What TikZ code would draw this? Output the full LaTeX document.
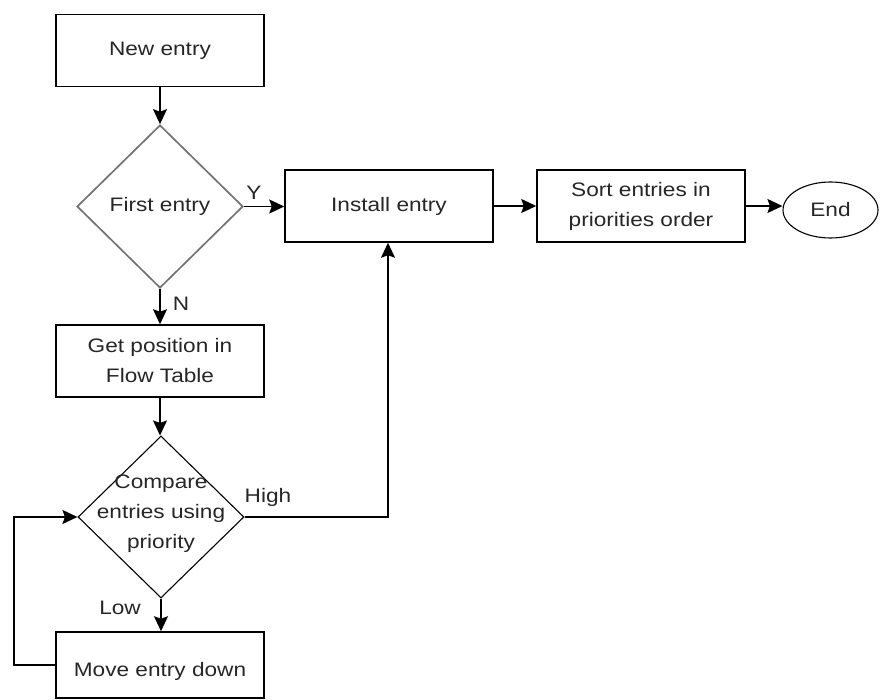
\documentclass[tikz,border=0pt]{standalone}
\usepackage{fontspec}
\setmainfont{Liberation Sans}[FakeStretch=1.16]
\usetikzlibrary{shapes.geometric,arrows.meta}
\begin{document}
\begin{tikzpicture}[x=1pt,y=-1pt,
  every node/.style={font=\fontsize{19.5}{30}\selectfont, text=black!85},
  box/.style={draw, line width=1.5pt, minimum width=208pt, minimum height=72pt, inner sep=0pt, align=center},
  dia/.style={draw, shape=diamond, minimum width=166pt, minimum height=163pt, inner sep=0pt},
  arr/.style={line width=1.5pt, -{Stealth[length=15pt,width=14pt,inset=2.5pt]}},
  lbl/.style={inner sep=0pt}]
\useasboundingbox (0,0) rectangle (880,700);
\node[box] (ne) at (160,50.5) {New entry};
\node[dia, draw=black!55, line width=1.7pt] (fe) at (160,206.5) {};
\node at (fe.center) {First entry};
\node[box] (gp) at (160,361) {Get position in\\Flow Table};
\node[dia, line width=1.1pt, minimum height=162pt] (cmp) at (161,517) {};
\node[align=center] at (161,514) {Compare\\entries using\\priority};
\node[box, minimum height=66pt] (mv) at (160,665) {};
\node at (160,671) {Move entry down};
\node[box] (inst) at (389,206) {Install entry};
\node[box] (sort) at (641,206) {Sort entries in\\priorities order};
\node[draw, ellipse, line width=1.1pt, minimum width=95pt, minimum height=56pt, inner sep=0pt] (end) at (830.5,210) {End};
\coordinate (loop) at (14,665);
\coordinate (hi) at (388,517);
\draw[arr] (ne.south) -- (fe.north);
\draw[arr] (fe.east) -- (fe.east -| inst.west);
\draw[arr] (fe.south) -- (gp.north);
\draw[arr] (gp.south) -- (gp.south |- cmp.north);
\draw[arr] (cmp.south) -- (cmp.south |- mv.north);
\draw[arr] (cmp.east) -- (hi) -- (hi |- inst.south);
\draw[arr] (mv.west) -- (loop) |- (cmp.west);
\draw[arr] (inst.east) -- (sort.west);
\draw[arr] (sort.east) -- (sort.east -| end.west);
\node[lbl] (ly) at (254,193) {Y};
\node[lbl] (ln) at (181,304) {N};
\node[lbl] (lh) at (268,497) {High};
\node[lbl] (ll) at (120,608) {Low};
\end{tikzpicture}
\end{document}
